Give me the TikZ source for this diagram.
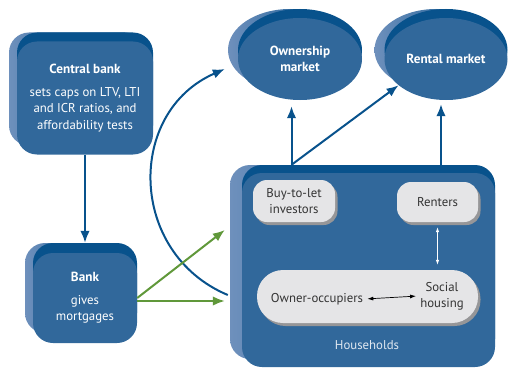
\documentclass[tikz,border=0pt]{standalone}
\usepackage{fontspec}
\setmainfont{PT Sans}
\usetikzlibrary{shapes.geometric,shadows,arrows.meta,calc}
\definecolor{boxblue}{RGB}{49,104,155}
\definecolor{darkblue}{RGB}{8,82,140}
\definecolor{edgeblue}{RGB}{110,144,188}
\definecolor{leafgreen}{RGB}{96,152,58}
\definecolor{paleface}{RGB}{229,229,231}
\definecolor{paleshadow}{RGB}{150,150,152}
\definecolor{inktext}{RGB}{51,51,51}
\newcommand\headfont{\bfseries\fontsize{13.2}{16.5}\selectfont}
\begin{document}
\begin{tikzpicture}[x=1pt,y=-1pt,
  backfaces/.style n args={2}{general shadow={shadow xshift=#1,shadow yshift=#2,left color=edgeblue,right color=darkblue},
    general shadow={shadow xshift=0pt,shadow yshift=#2,fill=darkblue}},
  bluebox/.style={rectangle,rounded corners=20pt,fill=boxblue,text=white,align=center,
    inner sep=0pt,font=\fontsize{12.8}{16.5}\selectfont},
  blueoval/.style={ellipse,fill=boxblue,text=white,align=center,inner sep=0pt,
    font=\headfont,backfaces={-10pt}{9pt}},
  palebox/.style={rectangle,fill=paleface,text=inktext,align=center,inner sep=0pt,
    font=\fontsize{12.8}{16}\selectfont,
    drop shadow={shadow xshift=2.5pt,shadow yshift=-3pt,fill=paleshadow,opacity=1}},
  inktext/.style={text=inktext,align=center,inner sep=2pt,font=\fontsize{12.8}{16}\selectfont},
  bluearrow/.style={draw=darkblue,line width=2pt,-{Latex[length=12pt,width=9.5pt]}},
  greenarrow/.style={draw=leafgreen,line width=2pt,-{Latex[length=12pt,width=9.5pt]}},
  whitearrow/.style={draw=white,line width=0.7pt,{Latex[length=5pt,width=3.5pt]}-{Latex[length=5pt,width=3.5pt]}},
  blackarrow/.style={draw=black,line width=0.7pt,{Latex[length=6pt,width=4pt]}-{Latex[length=6pt,width=4pt]}}]
\useasboundingbox (0,0) rectangle (508,369);

\node[bluebox,backfaces={-8pt}{9pt},minimum width=136pt,minimum height=113pt] (cb) at (85,98)
  {{\headfont Central bank}\\[6pt] sets caps on LTV, LTI\\ and ICR ratios, and\\ affordability tests};
\node[bluebox,backfaces={-8pt}{10pt},minimum width=104pt,minimum height=90pt] (bank) at (85,298)
  {{\headfont Bank}\\[6pt] gives\\ mortgages};
\node[blueoval,minimum width=124pt,minimum height=82pt] (own) at (300,59) {Ownership\\ market};
\node[blueoval,minimum width=123pt,minimum height=82pt] (rent) at (446,59) {Rental market};

\node[bluebox,backfaces={-12pt}{8pt},minimum width=253pt,minimum height=194pt] (hh) at (368.5,270) {};
\node[text=white!85!boxblue,font=\fontsize{12.8}{16}\selectfont] (hhlabel) at (367,345) {Households};

\node[palebox,rounded corners=14pt,minimum width=82pt,minimum height=42pt] (btl) at (294,201) {Buy-to-let\\ investors};
\node[palebox,rounded corners=14pt,minimum width=81pt,minimum height=40pt] (renters) at (437.5,202) {Renters};
\node[palebox,rounded corners=26pt,minimum width=221pt,minimum height=53pt] (occ) at (367.5,296.5) {};
\node[inktext] (owner) at (317,299) {Owner-occupiers};
\node[inktext] (social) at (442,296) {Social\\ housing};

\coordinate (hhleft) at ($(hh.north)+(-77,-8)$);
\coordinate (hhright) at ($(hh.north)+(72.5,-8)$);

\draw[bluearrow,shorten >=10pt] (cb.south) -- (bank.north);
\draw[bluearrow,shorten >=6pt] (hhleft) -- (hhleft |- own.south);
\draw[bluearrow] (hhleft) -- (rent.209);
\draw[bluearrow,shorten >=4pt] (hhright) -- (hhright |- rent.south);
\draw[bluearrow] ($(hh.west)+(-14,25)$) .. controls (128,253) and (126,112) .. ($(own.west)+(-13,10)$);
\draw[greenarrow] (bank.east) -- ($(hh.west)+(-17,-40)$);
\draw[greenarrow] ($(bank.east)+(0,3)$) -- ($(hh.west)+(-17,31)$);
\draw[whitearrow,shorten <=5pt,shorten >=5pt] (renters.south) -- (renters.south |- occ.north);
\draw[blackarrow,shorten <=2pt,shorten >=2pt] (owner.east) -- (social.west);
\end{tikzpicture}
\end{document}
